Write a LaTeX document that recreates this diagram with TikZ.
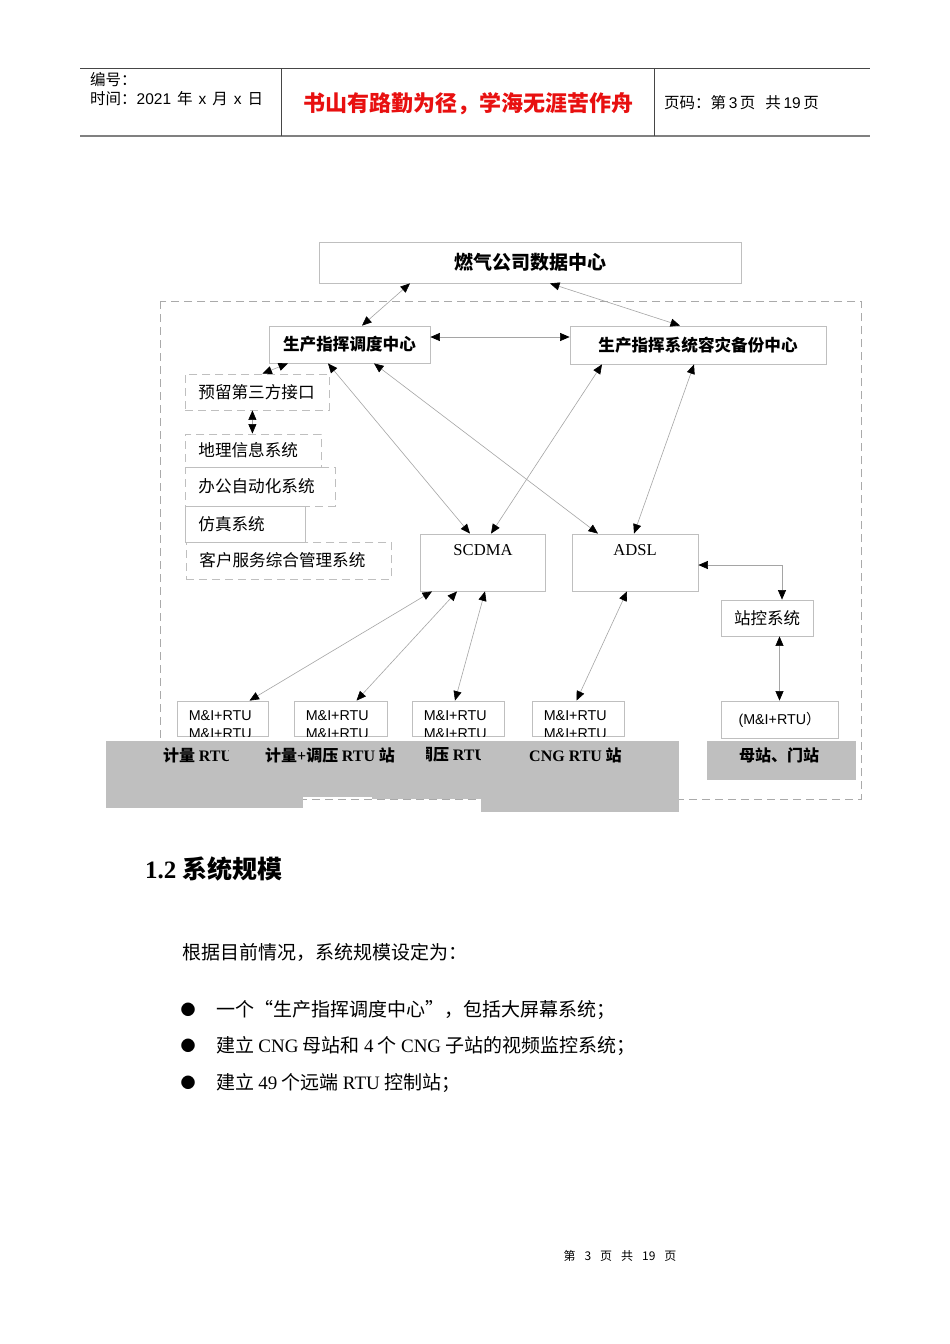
\documentclass[tikz,border=0pt]{standalone}
\usepackage{fontspec}
\setmainfont{Liberation Serif}
\setsansfont{Liberation Sans}
\newfontfamily\zh{Noto Sans CJK SC}
\usepackage{tikz}
\usetikzlibrary{arrows.meta,calc}
\definecolor{boxline}{RGB}{191,191,191}
\definecolor{linkline}{RGB}{165,165,165}
\definecolor{dashline}{RGB}{170,170,170}
\definecolor{barfill}{RGB}{191,191,191}
\definecolor{mottored}{RGB}{232,16,16}
\definecolor{ruleline}{RGB}{70,70,70}
\definecolor{rulegray}{RGB}{128,128,128}
\newcommand{\diagramfont}{\fontsize{16.6}{20}\selectfont}
\newcommand{\lat}[1]{{\rmfamily #1}}
\newcommand{\hdrlat}[1]{{\sffamily #1}}
\newcommand{\hgap}{\hspace{6pt}}
\tikzset{
  hdrtext/.style={font=\zh\fontsize{15.5}{18}\selectfont, anchor=west, inner sep=0pt},
  box/.style={draw=boxline, fill=white, line width=0.8pt, inner sep=0pt,
    font=\zh\bfseries\diagramfont},
  plainbox/.style={draw=boxline, fill=white, line width=0.8pt, inner sep=0pt,
    font=\zh\fontsize{16.5}{20}\selectfont},
  listbox/.style={draw=boxline, line width=0.8pt, dash pattern=on 8pt off 5pt,
    anchor=west, inner xsep=13pt, inner ysep=0pt, align=left,
    font=\zh\diagramfont},
  netbox/.style={draw=boxline, line width=0.8pt, inner sep=0pt},
  nettext/.style={font=\rmfamily\diagramfont, inner sep=0pt, anchor=north,
    yshift=-10.5pt},
  rtubox/.style={draw=boxline, line width=0.8pt, minimum height=35pt, inner sep=0pt},
  rtutext/.style={font=\sffamily\fontsize{14.3}{18}\selectfont, align=left,
    inner sep=0pt, anchor=north west},
  bar/.style={fill=barfill, inner sep=0pt, anchor=north west},
  bartext/.style={font=\zh\bfseries\fontsize{16}{19}\selectfont, inner sep=0pt},
  bodytext/.style={font=\zh\fontsize{19}{22}\selectfont, anchor=west, inner sep=0pt},
  bulletmark/.style={font=\zh\fontsize{15}{18}\selectfont, inner sep=0pt},
  outerdash/.style={draw=dashline, line width=0.8pt, dash pattern=on 8pt off 5pt},
  link/.style={draw=linkline, line width=0.6pt,
    {Triangle[black,length=9.5pt,width=8pt]}-{Triangle[black,length=9.5pt,width=8pt]}}
}

\begin{document}
\begin{tikzpicture}[x=1pt,y=-1pt]
  \useasboundingbox (0,0) rectangle (950,1344);
  \fill[white] (0,0) rectangle (950,1344);

  % page header
  \draw[ruleline, line width=0.8pt] (80,68) -- (870,68);
  \draw[rulegray, line width=2pt] (80,136) -- (870,136);
  \draw[ruleline, line width=0.8pt] (281,68) -- (281,136);
  \draw[ruleline, line width=0.8pt] (654,68) -- (654,136);
  \node[hdrtext] (serial) at (90,80) {编号：};
  \node[hdrtext] (date) at (90,99)
    {时间：\hdrlat{2021}\hgap 年\hgap\hdrlat{x}\hgap 月\hgap\hdrlat{x}\hgap 日};
  \node[font=\zh\bfseries\fontsize{22}{26}\selectfont, text=mottored, inner sep=0pt]
    (motto) at (468,104) {书山有路勤为径，学海无涯苦作舟};
  \node[hdrtext] (pageinfo) at (664,103)
    {页码：第\,\hdrlat{3}\,页\hspace{10pt}共\,\hdrlat{19}\,页};

  % diagram
  \draw[outerdash] (160,301) rectangle (861,799);
  \node[box, minimum width=422pt, minimum height=41pt,
    font=\zh\bfseries\fontsize{19}{22}\selectfont] (gasdc) at (530,262.5)
    {燃气公司数据中心};
  \node[box, minimum width=161pt, minimum height=37pt] (dispatch) at (349.5,344.5)
    {生产指挥调度中心};
  \node[box, minimum width=256pt, minimum height=38pt] (backup) at (698,345)
    {生产指挥系统容灾备份中心};

  \node[listbox, text width=118pt, minimum height=36pt] (thirdparty) at (185,392)
    {预留第三方接口};
  \node[listbox, text width=110pt, minimum height=33pt] (gis) at (185,450.5)
    {地理信息系统};
  \node[listbox, text width=124pt, minimum height=39pt] (office) at (185,486.5)
    {办公自动化系统};
  \node[listbox, solid, text width=94pt, minimum height=36pt] (sim) at (185,524)
    {仿真系统};
  \node[listbox, text width=179pt, minimum height=37pt] (crm) at (186,560.5)
    {客户服务综合管理系统};

  \node[netbox, minimum width=125pt, minimum height=57pt,
    label={[nettext]north:SCDMA}] (scdma) at (483,562.5) {};
  \node[netbox, minimum width=126pt, minimum height=57pt,
    label={[nettext]north:ADSL}] (adsl) at (635,562.5) {};
  \node[plainbox, minimum width=92pt, minimum height=36pt] (stationctl) at (767,618)
    {站控系统};

  \foreach \name/\cx/\w in {rtua/222.5/91, rtub/340.5/93, rtuc/458/92, rtud/578/92} {
    \node[rtubox, minimum width=\w pt] (\name) at (\cx,718.5) {};
    \begin{scope}
      \clip (\name.north west) rectangle (\name.south east);
      \node[rtutext] (\name-txt) at ([xshift=12pt,yshift=-10pt]\name.north west)
        {M\&I+RTU\\M\&I+RTU};
    \end{scope}
  }
  \node[rtubox, minimum width=117pt, minimum height=37pt,
    font=\sffamily\fontsize{14.3}{17}\selectfont] (motherrtu) at (779.5,719.5)
    {(M\&I+RTU{\zh ）}};

  \draw[link] ([xshift=-120pt]gasdc.south) -- ([xshift=12.5pt]dispatch.north);
  \draw[link] ([xshift=20pt]gasdc.south) -- ([xshift=-18pt]backup.north);
  \draw[link] ([yshift=7.5pt]dispatch.east) -- ([yshift=8pt]backup.west);
  \draw[link] ([xshift=-61.5pt]dispatch.south) -- ([xshift=5pt]thirdparty.north);
  \draw[link] ([xshift=-5pt]thirdparty.south) -- ([xshift=-1pt]gis.north);
  \draw[link] ([xshift=-21.5pt]dispatch.south) -- ([xshift=-13pt]scdma.north);
  \draw[link] ([xshift=24.5pt]dispatch.south) -- ([xshift=-37pt]adsl.north);
  \draw[link] ([xshift=-96pt]backup.south) -- ([xshift=8pt]scdma.north);
  \draw[link] ([xshift=-4pt]backup.south) -- ([xshift=-1pt]adsl.north);
  \draw[link] ([yshift=-2.5pt]adsl.east) -| ([xshift=15pt]stationctl.north);
  \draw[link] ([xshift=12.5pt]stationctl.south) -- (motherrtu.north);
  \draw[link] ([xshift=-51pt]scdma.south) -- ([xshift=27pt]rtua.north);
  \draw[link] ([xshift=-26pt]scdma.south) -- ([xshift=16pt]rtub.north);
  \draw[link] ([xshift=2pt]scdma.south) -- ([xshift=-3pt]rtuc.north);
  \draw[link] ([xshift=-8pt]adsl.south) -- ([xshift=-1.5pt]rtud.north);

  % station type bars
  \node[bar, minimum width=197pt, minimum height=67pt] (meterbar) at (106,741) {};
  \node[bar, minimum width=69pt, minimum height=56pt] (mixbar) at (303,741) {};
  \node[bar, minimum width=109pt, minimum height=58pt] (regbar) at (372,741) {};
  \node[bar, minimum width=198pt, minimum height=71pt] (cngbar) at (481,741) {};
  \node[bar, minimum width=149pt, minimum height=39pt] (motherbar) at (707,741) {};
  \begin{scope}
    \clip (meterbar.north west) rectangle ([xshift=122pt]meterbar.south west);
    \node[bartext, anchor=west] (metertext) at (163,755) {计量 \lat{RTU}};
  \end{scope}
  \node[bartext, anchor=west] (mixtext) at (265,755) {计量\lat{+}调压 \lat{RTU} 站};
  \begin{scope}
    \clip (426,741) rectangle (480,801);
    \node[bartext, anchor=west] (regtext) at (417,755) {调压 \lat{RTU}};
  \end{scope}
  \node[bartext, anchor=west] (cngtext) at (529,755) {\lat{CNG RTU} 站};
  \node[bartext] (mothertext) at (779,755) {母站、门站};

  % section text
  \node[font=\zh\bfseries\fontsize{25}{30}\selectfont, anchor=west, inner sep=0pt]
    (sectitle) at (145,869) {\lat{1.2} 系统规模};
  \node[bodytext] (intro) at (182,952) {根据目前情况，系统规模设定为：};
  \foreach \y/\tag in {1010/a, 1046/b, 1083/c}
    \node[bulletmark] (bullet\tag) at (188,\y) {●};
  \node[bodytext] (itema) at (216,1010) {一个“生产指挥调度中心”，包括大屏幕系统；};
  \node[bodytext] (itemb) at (216,1046)
    {建立 \lat{CNG} 母站和 \lat{4} 个 \lat{CNG} 子站的视频监控系统；};
  \node[bodytext] (itemc) at (216,1083) {建立 \lat{49} 个远端 \lat{RTU} 控制站；};

  \node[font=\zh\fontsize{12}{14}\selectfont, inner sep=0pt] (footer) at (620,1256)
    {第\hspace{9pt}3\hspace{9pt}页\hspace{9pt}共\hspace{9pt}19\hspace{9pt}页};
\end{tikzpicture}
\end{document}
